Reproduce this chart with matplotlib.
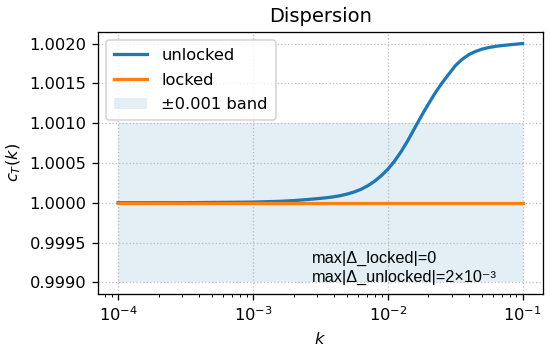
import matplotlib
matplotlib.use("Agg")
import matplotlib.pyplot as plt
import numpy as np

# wavenumber samples, as log10(k)
log10_k = [-4.0, -3.5, -3.0, -2.8, -2.7, -2.6, -2.55, -2.5, -2.45, -2.4, -2.35,
           -2.3, -2.25, -2.2, -2.15, -2.1, -2.05, -2.0, -1.95, -1.9, -1.85,
           -1.8, -1.75, -1.7, -1.65, -1.6, -1.55, -1.5, -1.45, -1.4, -1.35,
           -1.3, -1.25, -1.2, -1.15, -1.1, -1.05, -1.0]

c_unlocked = [1.0, 1.000001, 1.000008, 1.000018, 1.000027, 1.00004, 1.000047,
              1.000055, 1.000064, 1.000075, 1.00009, 1.00011, 1.000135,
              1.000168, 1.000212, 1.000268, 1.000337, 1.00042, 1.000523,
              1.000645, 1.000785, 1.00094, 1.001092, 1.001237, 1.001375,
              1.0015, 1.00161, 1.00172, 1.0018, 1.00186, 1.0019, 1.00193,
              1.00195, 1.001965, 1.001975, 1.001984, 1.001992, 1.0020]

c_locked = [1.0] * len(log10_k)

band_lo, band_hi = 0.999, 1.001
note = "max|Δ_locked|=0\nmax|Δ_unlocked|=2×10⁻³"

k = 10.0 ** np.array(log10_k)

fig = plt.figure(figsize=(550 / 117, 351 / 117), dpi=117)
ax = fig.add_axes([0.178, 0.1615, 0.809, 0.7485])

ax.plot(k, c_unlocked, lw=2, label="unlocked")
ax.plot(k, c_locked, lw=2, label="locked")
ax.fill_between(k, band_lo, band_hi, color="C0", alpha=0.12, lw=0, label="±0.001 band")
ax.set_xscale("log")

ax.set_title("Dispersion")
ax.set_xlabel("$k$")
ax.set_ylabel("$c_T(k)$")
ax.grid(True, which="major", ls=":", color="#b0b0b0", alpha=0.8)
ax.legend(loc="upper left", borderpad=0.5, labelspacing=0.6, handletextpad=0.9)
ax.text(0.48, 0.035, note, transform=ax.transAxes, ha="left", va="bottom",
        fontsize=10, linespacing=1.3, family=["Liberation Sans", "DejaVu Sans"])

fig.savefig("out.png", dpi=117)
